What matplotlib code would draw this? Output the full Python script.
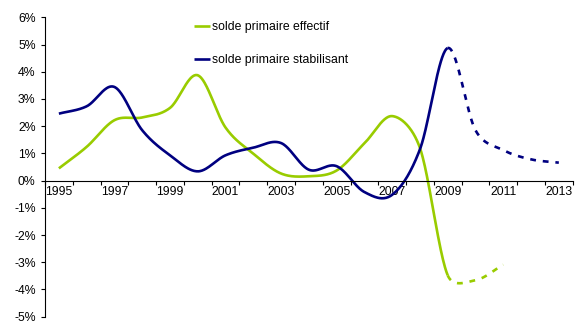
import numpy as np
import matplotlib
matplotlib.use("Agg")
import matplotlib.pyplot as plt
from matplotlib.ticker import FixedLocator, NullFormatter

plt.rcParams['font.family'] = ['Liberation Sans', 'DejaVu Sans']

years = list(range(1995, 2014))
tick_years = [y for y in years if y % 2 == 1]

# solde primaire effectif (projection from 2009 on)
effectif_years = list(range(1995, 2012))
effectif = [0.45, 1.24, 2.22, 2.32, 2.67, 3.87, 1.95, 0.99, 0.26, 0.16,
            0.37, 1.37, 2.37, 1.20, -3.48, -3.66, -3.09]

# solde primaire stabilisant (projection from 2009 on)
stabil_years = list(range(1995, 2014))
stabil = [2.46, 2.73, 3.44, 1.85, 0.93, 0.34, 0.93, 1.21, 1.38, 0.40,
          0.53, -0.42, -0.52, 1.15, 4.87, 1.85, 1.12, 0.78, 0.66]

split_year = 2009
green = '#99CC00'
navy = '#000080'


def smooth(xs, ys, n=40):
    # Bezier pieces with Catmull-Rom control points, shortened on short segments
    p = np.column_stack([np.asarray(xs, float), np.asarray(ys, float)])
    k = len(p)
    tang = np.zeros_like(p)
    tang[1:-1] = (p[2:] - p[:-2]) / 6
    tang[0] = (p[1] - p[0]) / 3
    tang[-1] = (p[-1] - p[-2]) / 3
    out = []
    for i in range(k - 1):
        seg = np.linalg.norm(p[i + 1] - p[i])
        t0, t1 = tang[i], tang[i + 1]
        if np.linalg.norm(t0) > seg / 2:
            t0 = t0 * (seg / 2) / np.linalg.norm(t0)
        if np.linalg.norm(t1) > seg / 2:
            t1 = t1 * (seg / 2) / np.linalg.norm(t1)
        c0, c1, c2, c3 = p[i], p[i] + t0, p[i + 1] - t1, p[i + 1]
        t = np.linspace(0, 1, n, endpoint=(i == k - 2))[:, None]
        out.append((1 - t)**3 * c0 + 3 * (1 - t)**2 * t * c1
                   + 3 * (1 - t) * t**2 * c2 + t**3 * c3)
    out = np.vstack(out)
    return out[:, 0], out[:, 1]


fig = plt.figure(figsize=(5.78, 3.24), dpi=100)
ax = fig.add_axes([45 / 578, 1 - 316.7 / 324, (572.7 - 45) / 578, (316.7 - 17.3) / 324])

for xs, ys, col, lab in [(effectif_years, effectif, green, 'solde primaire effectif'),
                         (stabil_years, stabil, navy, 'solde primaire stabilisant')]:
    sx, sy = smooth(xs, ys)
    solid = sx <= split_year
    dashed = sx >= split_year
    ax.plot(sx[solid], sy[solid], color=col, lw=1.9, label=lab,
            solid_capstyle='butt')
    ax.plot(sx[dashed], sy[dashed], color=col, lw=1.9,
            dashes=(2.2, 2.6), dash_capstyle='butt')

ax.set_xlim(years[0] - 0.5, years[-1] + 0.5)
ax.set_ylim(-5, 6)

ax.spines['top'].set_visible(False)
ax.spines['right'].set_visible(False)
ax.spines['bottom'].set_position(('data', 0))
ax.spines['left'].set_linewidth(0.8)
ax.spines['bottom'].set_linewidth(0.8)

# category boundaries carry the tick marks, labels sit at the centres
edges = [y - 0.5 for y in years] + [years[-1] + 0.5]
ax.xaxis.set_major_locator(FixedLocator(edges))
ax.xaxis.set_major_formatter(NullFormatter())
ax.xaxis.set_minor_locator(FixedLocator(tick_years))
ax.set_xticklabels([str(y) for y in tick_years], minor=True)
ax.tick_params(axis='x', which='major', direction='out', length=3.2, width=0.8)
ax.tick_params(axis='x', which='minor', length=0, pad=4, labelsize=8.8)

yt = list(range(-5, 7))
ax.set_yticks(yt)
ax.set_yticklabels([f'{v}%' for v in yt])
ax.tick_params(axis='y', direction='out', length=3.2, width=0.8, pad=3.5, labelsize=8.8)

ax.legend(loc='upper left', bbox_to_anchor=(194 / 578, 1 - 21 / 324),
          bbox_transform=fig.transFigure, frameon=False, fontsize=8.8,
          handlelength=1.3, handletextpad=0.15, labelspacing=1.75,
          borderaxespad=0, borderpad=0)

fig.savefig('out.png', dpi=100)
